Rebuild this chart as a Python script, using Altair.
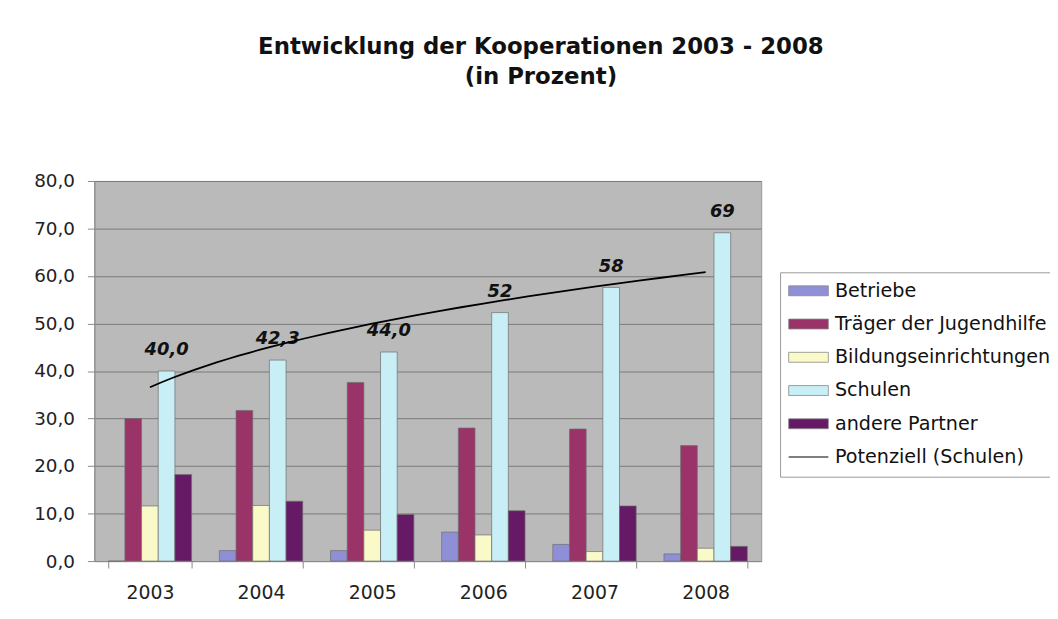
import altair as alt
import pandas as pd

years = ["2003", "2004", "2005", "2006", "2007", "2008"]
series = ["Betriebe", "Träger der Jugendhilfe", "Bildungseinrichtungen", "Schulen", "andere Partner"]
trend_name = "Potenziell (Schulen)"

betriebe = [0.0, 2.2, 2.2, 6.1, 3.5, 1.5]
traeger = [30.0, 31.7, 37.6, 28.0, 27.8, 24.3]
bildung = [11.6, 11.7, 6.5, 5.5, 2.0, 2.7]
schulen = [40.0, 42.3, 44.0, 52.3, 57.6, 69.1]
andere = [18.2, 12.6, 9.8, 10.6, 11.6, 3.1]
schulen_labels = ["40,0", "42,3", "44,0", "52", "58", "69"]

colors = ["#8e8fd6", "#9a3468", "#fafac8", "#c8eef6", "#661a66", "#555555"]

values = [betriebe, traeger, bildung, schulen, andere]
rows = []
for s, vals in zip(series, values):
    for y, v in zip(years, vals):
        rows.append({"year": y, "series": s, "value": v})
bars_df = pd.DataFrame(rows)

lab_df = pd.DataFrame({"year": years, "series": "Schulen", "value": schulen, "label": schulen_labels})
trend_df = pd.DataFrame({"idx": list(range(1, len(years) + 1)), "value": schulen})

x_scale = alt.Scale(paddingInner=0.25, paddingOuter=0.125)
y_scale = alt.Scale(domain=[0, 80])
off_scale = alt.Scale(domain=series, paddingInner=0, paddingOuter=0)

line_test = "datum.value === '" + trend_name + "'"

legend = alt.Legend(
    title=None,
    orient="none",
    legendX=691,
    legendY=92,
    labelFont="DejaVu Sans",
    labelFontSize=19.3,
    labelColor="#111111",
    labelLimit=400,
    symbolSize=400,
    symbolOffset=10,
    labelOffset=17,
    rowPadding=13.5,
    padding=9,
    strokeColor="#9a9a9a",
    fillColor="#ffffff",
    symbolType={"expr": line_test + " ? 'M-2,0H2' : 'M-2,-0.5H2V0.5H-2Z'"},
    symbolStrokeColor={"expr": line_test + " ? '#555555' : '#8a8a8a'"},
    symbolStrokeWidth={"expr": line_test + " ? 1.5 : 0.8"},
)

bars = alt.Chart(bars_df).mark_bar(stroke="#6e6e6e", strokeWidth=0.7).encode(
    x=alt.X("year:N", scale=x_scale, title=None,
            axis=alt.Axis(labelAngle=0, labelFont="DejaVu Sans", labelFontSize=19, labelColor="#222222",
                          tickBand="extent", tickSize=7, tickColor="#8a8a8a", domainColor="#8a8a8a",
                          labelPadding=16, grid=False)),
    xOffset=alt.XOffset("series:N", scale=off_scale),
    y=alt.Y("value:Q", scale=y_scale, title=None,
            axis=alt.Axis(values=[0, 10, 20, 30, 40, 50, 60, 70, 80],
                          labelExpr="replace(format(datum.value, '.1f'), '.', ',')",
                          labelFont="DejaVu Sans", labelFontSize=18.5, labelColor="#222222",
                          tickSize=7, tickColor="#8a8a8a", domainColor="#8a8a8a", labelPadding=13,
                          gridColor="#7a7a7a", gridWidth=1)),
    color=alt.Color("series:N", scale=alt.Scale(domain=series + [trend_name], range=colors), legend=legend),
)

labels = alt.Chart(lab_df).mark_text(
    font="DejaVu Sans", fontSize=18, fontWeight="bold", fontStyle="italic",
    color="#111111", baseline="middle", dy=-21,
).encode(
    x=alt.X("year:N", scale=x_scale),
    xOffset=alt.XOffset("series:N", scale=off_scale),
    y=alt.Y("value:Q", scale=y_scale),
    text="label:N",
)

trend = alt.Chart(trend_df).transform_regression(
    "idx", "value", method="pow", extent=[1, 6]
).mark_line(color="#000000", strokeWidth=1.8).encode(
    x=alt.X("idx:Q", scale=alt.Scale(domain=[0.5, 6.5], nice=False, zero=False), axis=None),
    y=alt.Y("value:Q", scale=y_scale),
)

chart = alt.layer(alt.layer(bars, labels), trend).resolve_scale(x="independent").properties(
    width=672,
    height=383,
    autosize=alt.AutoSizeParams(type="none"),
    padding={"left": 87, "top": 172, "right": 291, "bottom": 48},
    background="#ffffff",
    title=alt.TitleParams(
        text=["Entwicklung der Kooperationen 2003 - 2008", "(in Prozent)"],
        font="DejaVu Sans", fontSize=23, fontWeight="bold", color="#111111",
        anchor="middle", frame="group", dx=114, baseline="alphabetic", offset=66, lineHeight=30,
    ),
).configure_view(fill="#bababa", stroke="#999999", strokeWidth=1)

chart.save("out.html", embed_options={"renderer": "svg", "actions": False})
